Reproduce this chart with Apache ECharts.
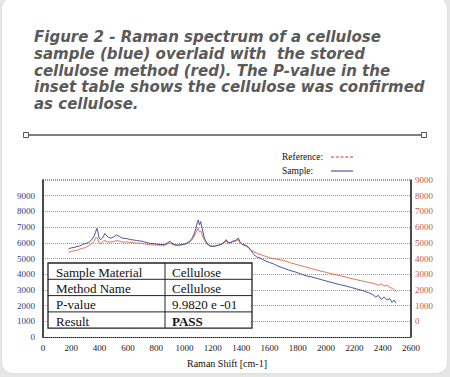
<!DOCTYPE html>
<html>
<head>
<meta charset="utf-8">
<script src="https://cdn.jsdelivr.net/npm/echarts@6/dist/echarts.min.js"></script>
<style>
  html, body { margin: 0; padding: 0; background: #e6e6e6; }
  .card { position: absolute; left: 2px; top: -2px; width: 445px; height: 375px; background: #fff; border-radius: 10px; box-shadow: 0 0 2px #cfcfcf; }
  #chart { position: absolute; left: 0; top: 0; width: 450px; height: 377px; }
</style>
</head>
<body>
<div class="card"></div>
<div id="chart"></div>
<script>
  // caption
  var titleLines = [
    'Figure 2 - Raman spectrum of a cellulose',
    'sample (blue) overlaid with  the stored',
    'cellulose method (red). The P-value in the',
    'inset table shows the cellulose was confirmed',
    'as cellulose.'
  ]

  // inset table
  var tableLabels = ['Sample Material', 'Method Name', 'P-value', 'Result']
  var tableValues = ['Cellulose', 'Cellulose', '9.9820 e -01', 'PASS']

  // axes
  var xTicks = [0, 2600, 200]
  var leftTicks = [0, 10000, 1000]
  var rightTicks = [-1000, 9000, 1000]

  // sample spectrum (blue) [raman shift, intensity]
  var sampleData = [
    [180, 5600], [200, 5680], [220, 5700], [240, 5760], [260, 5800], [280, 5900], [300, 5950],
    [320, 6000], [340, 6150], [360, 6400], [372, 6700], [380, 6920], [388, 6700], [395, 6350],
    [405, 6200], [420, 6300], [438, 6600], [450, 6450], [462, 6350], [480, 6300], [500, 6380],
    [520, 6500], [540, 6400], [560, 6300], [580, 6280], [600, 6250], [620, 6200], [640, 6180],
    [660, 6150], [680, 6120], [700, 6100], [720, 6050], [740, 6000], [760, 5960], [780, 5950],
    [800, 5920], [820, 5900], [840, 5880], [860, 5900], [880, 6000], [897, 6100], [910, 5980],
    [930, 5880], [950, 5860], [970, 5870], [990, 5900], [1010, 5950], [1030, 6050], [1050, 6250],
    [1065, 6500], [1080, 6900], [1090, 7300], [1097, 7450], [1105, 7150], [1114, 7350], [1125, 6900],
    [1140, 6300], [1160, 5950], [1180, 5800], [1200, 5780], [1220, 5800], [1240, 5850], [1260, 5900],
    [1280, 6050], [1295, 6200], [1305, 6050], [1320, 6000], [1340, 6100], [1360, 6150], [1380, 6300],
    [1395, 6000], [1410, 5900], [1430, 5850], [1450, 5750], [1470, 5500], [1490, 5250], [1510, 5100],
    [1540, 5000], [1570, 4850], [1600, 4750], [1630, 4650], [1660, 4520], [1700, 4380], [1740, 4250],
    [1780, 4150], [1820, 4020], [1860, 3900], [1900, 3820], [1940, 3720], [1980, 3620], [2020, 3520],
    [2060, 3420], [2100, 3330], [2140, 3250], [2180, 3150], [2220, 3050], [2260, 2950], [2300, 2820],
    [2330, 2700], [2350, 2550], [2370, 2650], [2390, 2400], [2410, 2550], [2430, 2350], [2450, 2450],
    [2465, 2200], [2480, 2350], [2495, 2150]
  ]

  // stored cellulose method (red)
  var referenceData = [
    [180, 5400], [200, 5450], [220, 5500], [240, 5520], [260, 5600], [280, 5650], [300, 5700],
    [320, 5800], [340, 5900], [360, 6100], [375, 6350], [385, 6300], [395, 6000], [410, 5950],
    [430, 6150], [445, 6100], [460, 6050], [480, 6050], [500, 6080], [520, 6150], [540, 6100],
    [560, 6050], [580, 6050], [600, 6050], [620, 6020], [640, 6000], [660, 5980], [680, 5980],
    [700, 5950], [720, 5930], [740, 5900], [760, 5880], [780, 5870], [800, 5850], [820, 5850],
    [840, 5840], [860, 5850], [880, 5920], [897, 6000], [910, 5920], [930, 5850], [950, 5830],
    [970, 5850], [990, 5880], [1010, 5920], [1030, 6000], [1050, 6150], [1065, 6350], [1080, 6650],
    [1095, 6920], [1105, 6700], [1115, 6750], [1125, 6500], [1140, 6150], [1160, 5900], [1180, 5800],
    [1200, 5780], [1220, 5800], [1240, 5850], [1260, 5900], [1280, 6000], [1295, 6120], [1305, 6000],
    [1320, 5980], [1340, 6050], [1360, 6100], [1380, 6200], [1395, 5980], [1410, 5880], [1430, 5820],
    [1450, 5700], [1470, 5520], [1490, 5420], [1520, 5300], [1560, 5180], [1600, 5050], [1650, 4950],
    [1700, 4880], [1750, 4720], [1800, 4600], [1850, 4470], [1900, 4350], [1950, 4230], [2000, 4120],
    [2050, 4000], [2100, 3900], [2150, 3790], [2200, 3680], [2250, 3580], [2300, 3480], [2340, 3400],
    [2370, 3300], [2390, 3380], [2410, 3250], [2430, 3300], [2450, 3150], [2470, 3100], [2490, 2950],
    [2500, 2900]
  ]

  var serif = '"Liberation Serif", "DejaVu Serif", serif'
  var plain = function (v) { return String(v) } // no thousands separators

  // legend swatches: a dashed stroke and a solid stroke
  var dashedIcon = 'path://M0,0h3v1h-3z M4.75,0h3v1h-3z M9.5,0h3v1h-3z M14.25,0h3v1h-3z M19,0h3v1h-3z'
  var solidIcon = 'path://M0,0h22v1h-22z'

  // inset table built as graphic elements
  function buildTable() {
    var x0 = 48, y0 = 263, w1 = 117, w2 = 87, rowH = 16.3
    var h = rowH * tableLabels.length
    var kids = []
    kids.push({
      type: 'rect', z: 100,
      shape: {x: x0, y: y0, width: w1 + w2, height: h},
      style: {fill: '#fff', stroke: '#222', lineWidth: 1.3}
    })
    for (var i = 0; i < tableLabels.length; i++) {
      var y = y0 + i * rowH
      if (i > 0) {
        kids.push({type: 'line', z: 101, shape: {x1: x0, y1: y, x2: x0 + w1 + w2, y2: y}, style: {stroke: '#222', lineWidth: 1}})
      }
      kids.push({
        type: 'text', z: 102,
        style: {text: tableLabels[i], x: x0 + 8, y: y + rowH / 2 + 1, verticalAlign: 'middle', font: '13px ' + serif, fill: '#111'}
      })
      kids.push({
        type: 'text', z: 102,
        style: {text: tableValues[i], x: x0 + w1 + 7, y: y + rowH / 2 + 1, verticalAlign: 'middle',
          font: (tableValues[i] === 'PASS' ? 'bold ' : '') + '13px ' + serif, fill: '#111'}
      })
    }
    kids.push({type: 'line', z: 101, shape: {x1: x0 + w1, y1: y0, x2: x0 + w1, y2: y0 + h}, style: {stroke: '#222', lineWidth: 1}})
    return {type: 'group', z: 100, children: kids}
  }

  var chart = echarts.init(document.getElementById('chart'), null, {renderer: 'svg'})

  chart.setOption({
    animation: false,
    title: {
      text: titleLines.join('\n'),
      left: 29,
      top: 24,
      textStyle: {
        fontFamily: '"DejaVu Sans", sans-serif',
        fontStyle: 'italic',
        fontWeight: 'bold',
        fontSize: 15,
        lineHeight: 16.6,
        color: '#5a5a5a'
      }
    },
    legend: {
      orient: 'vertical',
      align: 'right',
      left: 277,
      top: 147,
      itemGap: 4,
      itemWidth: 22,
      itemHeight: 1.3,
      formatter: function (name) { return '{t|' + name + '}' },
      textStyle: {
        rich: {t: {fontFamily: serif, fontSize: 9.5, color: '#111', width: 44, align: 'left'}}
      },
      data: [
        {name: 'Reference:', icon: dashedIcon, itemStyle: {color: '#c0392b'}},
        {name: 'Sample:', icon: solidIcon, itemStyle: {color: '#2d3585'}}
      ]
    },
    grid: {left: 43, right: 39, top: 180, bottom: 40},
    xAxis: {
      type: 'value',
      min: xTicks[0],
      max: xTicks[1],
      interval: xTicks[2],
      name: 'Raman Shift [cm-1]',
      nameLocation: 'middle',
      nameGap: 21,
      nameTextStyle: {fontFamily: serif, fontSize: 10, color: '#111'},
      axisLine: {lineStyle: {color: '#222', type: [1, 1], width: 1}},
      axisTick: {show: false},
      splitLine: {show: false},
      axisLabel: {fontFamily: serif, fontSize: 9, color: '#222', margin: 6, formatter: plain}
    },
    yAxis: [
      {
        type: 'value',
        min: leftTicks[0],
        max: leftTicks[1],
        interval: leftTicks[2],
        position: 'left',
        axisLine: {show: true, lineStyle: {color: '#111', width: 1.5}},
        axisTick: {show: false},
        axisLabel: {showMaxLabel: false, fontFamily: serif, fontSize: 9, color: '#2f3b8a', margin: 8, formatter: plain},
        splitLine: {show: true, lineStyle: {color: '#9a9a9a', type: [1, 1], width: 1}}
      },
      {
        type: 'value',
        min: rightTicks[0],
        max: rightTicks[1],
        interval: rightTicks[2],
        position: 'right',
        axisLine: {show: true, lineStyle: {color: '#111', width: 1.5}},
        axisTick: {show: false},
        axisLabel: {showMinLabel: false, fontFamily: serif, fontSize: 9, color: '#c9553d', margin: 4, formatter: plain},
        splitLine: {show: false}
      }
    ],
    graphic: [
      {type: 'line', shape: {x1: 26, y1: 135, x2: 424, y2: 135}, style: {stroke: '#555', lineWidth: 1.6}},
      {type: 'rect', shape: {x: 23.5, y: 132.5, width: 5, height: 5}, style: {fill: '#fff', stroke: '#555', lineWidth: 1}},
      {type: 'rect', shape: {x: 421.5, y: 132.5, width: 5, height: 5}, style: {fill: '#fff', stroke: '#555', lineWidth: 1}},
      {type: 'line', shape: {x1: 43, y1: 180, x2: 411, y2: 180}, style: {stroke: '#333', lineWidth: 1, lineDash: [1, 1]}},
      buildTable()
    ],
    series: [
      {
        name: 'Reference:',
        type: 'line',
        symbol: 'none',
        data: referenceData,
        lineStyle: {color: '#dd6640', width: 0.9},
        itemStyle: {color: '#c0392b'},
        z: 2
      },
      {
        name: 'Sample:',
        type: 'line',
        symbol: 'none',
        data: sampleData,
        lineStyle: {color: '#3a3f8f', width: 0.9},
        itemStyle: {color: '#2d3585'},
        z: 3
      }
    ]
  })
</script>
</body>
</html>
